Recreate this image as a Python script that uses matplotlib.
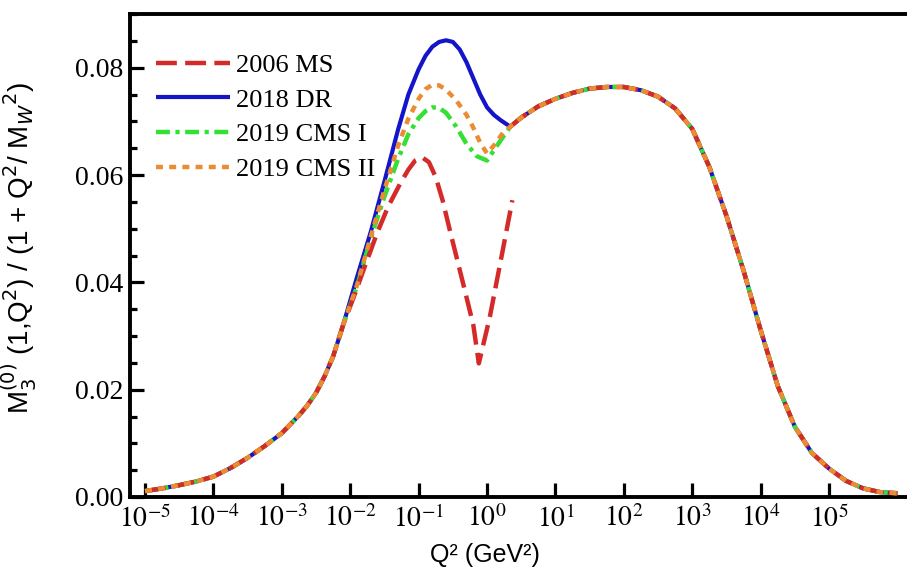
import numpy as np
import matplotlib
matplotlib.use("Agg")
import matplotlib.pyplot as plt
from matplotlib.ticker import FixedLocator, MultipleLocator, FuncFormatter, NullLocator

plt.rcParams['font.family'] = ['Liberation Serif', 'DejaVu Serif']
plt.rcParams['mathtext.fontset'] = 'stix'
plt.rcParams['lines.scale_dashes'] = False

# log10(Q^2) and M3 values
# shared low-Q^2 part (all four curves on top of each other)
logq_low = [-5.0, -4.75, -4.5, -4.25, -4.0, -3.75, -3.5, -3.25, -3.0, -2.75,
            -2.625, -2.5, -2.375, -2.25, -2.1]
m3_low = [0.0011, 0.0016, 0.0022, 0.0029, 0.0038, 0.0054, 0.0073, 0.0095, 0.0119,
          0.0152, 0.0171, 0.0194, 0.0225, 0.0262, 0.0322]

# shared high-Q^2 part
logq_high = [0.34, 0.5, 0.75, 1.0, 1.25, 1.5, 1.75, 2.0, 2.25, 2.5, 2.75,
             3.0, 3.25, 3.5, 3.75, 4.0, 4.25, 4.5, 4.75, 5.0, 5.25, 5.5, 5.75, 6.0]
m3_high = [0.0690, 0.0707, 0.0728, 0.0742, 0.0753, 0.0761, 0.0764, 0.0764,
           0.0758, 0.0746, 0.0724, 0.0686, 0.0615, 0.0524, 0.0422, 0.0311, 0.0207,
           0.0131, 0.0082, 0.0053, 0.0030, 0.0016, 0.0009, 0.0007]

# resonance region, one per model
logq_dr = [-1.9, -1.7, -1.5, -1.3, -1.15, -1.0, -0.9, -0.8, -0.7, -0.6, -0.5, -0.4,
           -0.3, -0.2, -0.1, 0.0, 0.1, 0.2]
m3_dr = [0.0410, 0.0494, 0.0588, 0.0685, 0.0750, 0.0797, 0.0822, 0.0839, 0.0848,
         0.0851, 0.0848, 0.0834, 0.0810, 0.0780, 0.0750, 0.0726, 0.0712, 0.0702]

logq_cms2 = [-1.9, -1.7, -1.5, -1.3, -1.15, -1.0, -0.9, -0.8, -0.7, -0.6, -0.45,
             -0.3, -0.2, -0.1, 0.0, 0.1, 0.24]
m3_cms2 = [0.0395, 0.0485, 0.0572, 0.0655, 0.0705, 0.0742, 0.0760, 0.0768, 0.0767,
           0.0759, 0.0739, 0.0712, 0.0688, 0.0660, 0.0640, 0.0655, 0.0680]

logq_cms1 = [-1.9, -1.7, -1.5, -1.3, -1.15, -1.0, -0.9, -0.8, -0.7, -0.6, -0.45,
             -0.3, -0.15, 0.0, 0.12, 0.24]
m3_cms1 = [0.0393, 0.0482, 0.0560, 0.0630, 0.0676, 0.0706, 0.0719, 0.0726, 0.0725,
           0.0716, 0.0690, 0.0658, 0.0635, 0.0627, 0.0650, 0.0672]

logq_ms = [-1.93, -1.8, -1.61, -1.45, -1.27, -1.15, -1.05, -0.95, -0.85, -0.75, -0.65,
           -0.54, -0.35, -0.2, -0.12, 0.04, 0.23, 0.37]
m3_ms = [0.0379, 0.0425, 0.0491, 0.0540, 0.0584, 0.0610, 0.0627, 0.0633, 0.0624,
         0.0596, 0.0553, 0.0495, 0.0398, 0.0320, 0.0249, 0.0335, 0.0460, 0.0553]

labels = ["2006 MS", "2018 DR", "2019 CMS I", "2019 CMS II"]
colors = ["#d42a2a", "#1414c8", "#33e033", "#eb8c32"]


def series(lq_mid, v_mid, gap=False):
    if gap:
        lq = logq_low + lq_mid + [np.nan] + logq_high
        v = m3_low + v_mid + [np.nan] + m3_high
    else:
        lq = logq_low + lq_mid + logq_high
        v = m3_low + v_mid + m3_high
    return 10.0 ** np.array(lq), np.array(v)


fig = plt.figure(figsize=(9.07, 5.68), dpi=100)
ax = fig.add_axes([130 / 907, 71 / 568, 777 / 907, 483 / 568])

x, y = series(logq_dr, m3_dr)
h_dr, = ax.plot(x, y, color=colors[1], lw=3, solid_capstyle='butt',
                solid_joinstyle='round', zorder=2)
x, y = series(logq_cms1, m3_cms1)
h_c1, = ax.plot(x, y, color=colors[2], lw=3.2, dashes=(10, 4, 3, 4), zorder=3)
x, y = series(logq_ms, m3_ms, gap=True)
h_ms, = ax.plot(x, y, color=colors[0], lw=3.2, dashes=(15, 6), zorder=4)
x, y = series(logq_cms2, m3_cms2)
h_c2, = ax.plot(x, y, color=colors[3], lw=3.2, dashes=(5, 4.5), zorder=5)

ax.set_xscale('log')
ax.set_xlim(10 ** -5.22, 10 ** 6.14)
ax.set_ylim(0, 0.09)

ax.xaxis.set_major_locator(FixedLocator([10.0 ** k for k in range(-5, 6)]))
ax.xaxis.set_major_formatter(FuncFormatter(lambda v, p: r'$10^{%d}$' % round(np.log10(v))))
ax.xaxis.set_minor_locator(NullLocator())
ax.yaxis.set_major_locator(MultipleLocator(0.02))
ax.yaxis.set_minor_locator(MultipleLocator(0.005))
ax.yaxis.set_major_formatter(FuncFormatter(lambda v, p: '%.2f' % v))

ax.tick_params(axis='both', which='major', direction='in', length=10, width=2.3,
               labelsize=20, top=False, right=False)
ax.tick_params(axis='y', which='minor', direction='in', length=5, width=2.3, right=False)
ax.tick_params(axis='x', which='major', pad=6)
ax.tick_params(axis='y', which='major', pad=5)

for side in ['left', 'bottom', 'top']:
    ax.spines[side].set_linewidth(2.8)
ax.spines['right'].set_visible(False)

ax.set_xlabel("Q² (GeV²)", family=['Liberation Sans', 'DejaVu Sans'], fontsize=18)
ax.xaxis.set_label_coords((485 - 130) / 777, -0.095)
ax.set_ylabel(r"M$_3^{(0)}$ (1,Q$^2$) / (1 + Q$^2$/ M$_W$$^2$)",
              family=['Liberation Sans', 'DejaVu Sans'], fontsize=20,
              math_fontfamily='dejavusans')
ax.yaxis.set_label_coords((39 - 130) / 777, 0.515)

ax.legend([h_ms, h_dr, h_c1, h_c2], labels, loc='upper left',
          bbox_to_anchor=(0.033, 0.918), frameon=False, fontsize=19,
          handlelength=2.8, handletextpad=0.25, labelspacing=0.42,
          borderpad=0, borderaxespad=0)

fig.savefig("out.png", dpi=100)
